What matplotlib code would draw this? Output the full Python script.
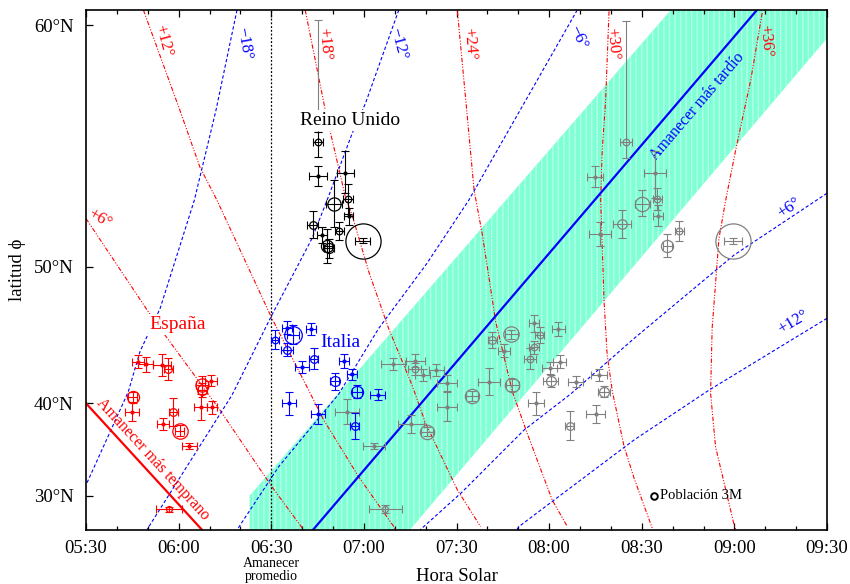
import numpy as np
import matplotlib.pyplot as plt
from matplotlib.ticker import FixedLocator, MultipleLocator, FuncFormatter

plt.rcParams['font.family'] = ['Liberation Serif', 'DejaVu Serif']
plt.rcParams['hatch.linewidth'] = 1.0

# ---------------- data (time in minutes of solar time, latitude in degrees) ----
# United Kingdom
uk_t = [405.1, 405.1, 414.0, 410.2, 414.9, 403.4, 415.1, 406.4, 412.0, 408.1, 408.7, 419.6]
uk_lat = [55.84, 54.44, 54.58, 53.18, 53.40, 52.20, 52.60, 51.70, 51.90, 51.10, 51.00, 51.40]
uk_dt = [1.6, 2.9, 2.7, 2.6, 1.5, 1.9, 1.5, 1.5, 1.5, 1.5, 1.5, 2.4]
uk_dlo = [0.6, 0.45, 0.9, 1.1, 0.7, 0.65, 0.4, 0.4, 0.45, 0.9, 0.5, 0.15]
uk_dhi = [0.4, 0.45, 0.9, 1.1, 0.7, 0.65, 0.4, 0.4, 0.45, 0.9, 0.5, 0.15]
uk_pop = [3.0, 0.5, 0.5, 6.0, 3.0, 3.5, 0.5, 0.5, 3.0, 5.5, 4.5, 16.0]

# Italy
it_t = [391.3, 395.1, 397.0, 395.1, 403.0, 400.0, 403.7, 410.5, 413.6, 416.2, 417.8, 424.5, 395.8, 405.1, 417.0]
it_lat = [45.31, 46.20, 45.70, 44.60, 46.10, 43.20, 43.90, 42.00, 43.70, 42.60, 41.10, 40.80, 40.00, 38.95, 37.70]
it_dt = [1.3, 1.6, 2.0, 1.9, 1.6, 2.2, 1.6, 1.5, 1.7, 1.6, 1.6, 2.4, 2.2, 2.2, 1.5]
it_dlat = [0.7, 0.45, 0.7, 0.5, 0.4, 0.5, 0.8, 0.75, 0.55, 0.5, 0.6, 0.5, 1.1, 1.0, 1.4]
it_pop = [3.0, 0.5, 8.0, 3.5, 1.0, 0.5, 3.5, 4.5, 0.5, 0.5, 5.5, 0.5, 0.5, 0.5, 3.5]

# Spain
es_t = [346.9, 349.4, 354.7, 356.7, 367.5, 370.4, 345.1, 344.8, 355.0, 358.3, 360.4, 363.4, 367.1, 370.8, 367.7, 356.9]
es_lat = [43.65, 43.44, 43.38, 43.03, 41.70, 42.06, 40.56, 39.18, 37.94, 39.12, 37.24, 35.57, 39.60, 39.60, 41.23, 28.52]
es_dt = [2.0, 2.4, 2.9, 1.5, 2.0, 2.0, 1.5, 2.3, 2.0, 1.5, 1.5, 2.4, 2.0, 1.5, 1.5, 4.3]
es_dlat = [0.5, 0.6, 0.9, 0.9, 0.8, 0.5, 0.5, 0.9, 0.6, 1.4, 0.6, 0.3, 1.3, 0.6, 0.6, 0.3]
es_pop = [0.5, 0.5, 0.5, 3.5, 6.0, 0.5, 5.5, 0.5, 0.5, 3.5, 7.0, 0.5, 0.5, 0.5, 4.5, 2.7]

# other countries
ot_t = [405.1, 505.0, 494.9, 510.2, 515.0, 514.2, 515.3, 518.3, 522.2, 496.4, 503.6, 539.6,
        429.4, 436.7, 436.4, 439.0, 443.5, 446.8, 461.6, 467.8, 475.1, 477.0, 483.0, 465.4,
        475.1, 473.8, 483.4, 480.2, 460.5, 468.1, 480.5, 488.6, 496.2, 497.8, 455.1, 475.8,
        486.7, 495.1, 447.0, 440.5, 435.3, 414.5, 423.4, 426.9]
ot_lat = [56.70, 55.84, 54.41, 53.21, 53.41, 54.58, 52.63, 51.13, 51.88, 51.72, 52.22, 51.39,
          43.44, 43.73, 43.06, 42.57, 42.97, 41.84, 45.31, 45.72, 46.49, 45.67, 46.08, 44.53,
          44.77, 43.90, 43.65, 43.16, 41.98, 41.68, 42.04, 41.98, 42.57, 41.08, 40.68, 40.00,
          37.74, 38.95, 39.67, 37.13, 37.94, 39.18, 35.57, 28.54]
ot_dt = [1.5, 1.9, 2.6, 2.5, 1.5, 3.6, 1.5, 1.5, 1.5, 3.6, 2.8, 2.9,
         4.0, 3.0, 2.0, 2.5, 2.5, 3.2, 1.5, 2.0, 1.5, 1.5, 2.0, 2.0,
         1.5, 2.0, 2.0, 2.5, 3.6, 2.0, 2.5, 2.5, 2.5, 2.0, 2.0, 2.6,
         1.5, 3.0, 3.2, 2.0, 4.2, 3.8, 3.6, 5.4]
ot_dlo = [0.46, 0.65, 0.45, 0.6, 0.5, 1.1, 0.5, 0.6, 0.5, 0.6, 0.7, 0.15,
          0.5, 0.5, 0.5, 0.5, 0.5, 0.7, 0.6, 0.3, 0.6, 0.6, 0.5, 0.5,
          0.5, 0.8, 0.5, 0.5, 1.2, 0.5, 0.5, 0.5, 0.5, 0.5, 0.5, 1.1,
          1.5, 0.9, 1.4, 0.5, 0.9, 1.2, 0.3, 0.4]
ot_dhi = [3.47, 4.3, 0.45, 0.6, 0.5, 0.9, 0.5, 0.6, 0.5, 0.6, 0.7, 0.15,
          0.5, 0.5, 0.5, 0.5, 0.5, 0.7, 0.6, 0.3, 0.6, 0.6, 0.5, 0.5,
          0.5, 0.8, 0.5, 0.5, 1.2, 0.5, 0.5, 0.5, 0.5, 0.5, 0.5, 1.1,
          1.5, 0.9, 1.4, 0.5, 0.9, 1.2, 0.3, 0.4]
ot_pop = [0.5, 3.0, 0.5, 6.5, 3.0, 0.5, 0.5, 5.5, 3.0, 0.5, 4.3, 16.0,
          0.5, 0.5, 3.0, 0.5, 0.5, 0.5, 3.5, 7.0, 0.5, 3.0, 0.5, 0.5,
          3.0, 3.0, 0.5, 0.5, 0.5, 6.5, 4.5, 0.5, 0.5, 4.5, 6.5, 0.5,
          3.5, 0.5, 0.5, 6.5, 0.5, 0.5, 0.5, 2.7]

# latest sunrise (winter) and earliest sunrise (summer, DST)
late_t = [403.5, 547.3]
late_lat = [26.39, 60.48]
early_t = [330.0, 367.6]
early_lat = [40.0, 26.39]

# band of +-30 min around the latest sunrise
band_t = [383.0, 383.0, 519.4, 570.0, 570.0, 434.9]
band_lat = [26.39, 30.0, 60.48, 60.48, 59.58, 26.39]

# solar altitude lines, summer (red) and winter (blue)
red_lines = {
    '+6°': ([330.0, 351.6, 373.4, 390.2, 400.5], [52.50, 46.84, 39.34, 31.0, 26.39]),
    '+12°': ([348.6, 360.4, 366.9, 372.4, 390.2, 402.1, 407.0, 418.3, 429.7, 430.3],
             [60.48, 57.08, 54.82, 53.37, 46.84, 41.23, 38.34, 32.12, 26.72, 26.39]),
    '+18°': ([401.0, 407.5, 414.0, 416.2, 421.6, 428.0, 435.6, 440.0, 450.3, 457.8],
             [60.48, 57.08, 53.52, 52.66, 49.71, 46.15, 41.68, 38.0, 30.63, 26.72]),
    '+24°': ([450.3, 453.0, 455.7, 458.4, 462.7, 468.1, 472.9, 481.0, 485.9],
             [60.44, 57.45, 53.82, 51.68, 46.60, 41.08, 36.96, 29.53, 26.72]),
    '+30°': ([499.4, 498.3, 497.2, 496.7, 497.8, 498.8, 500.5, 504.3, 507.5, 513.4],
             [60.44, 57.45, 55.52, 53.37, 47.92, 44.18, 41.08, 35.5, 31.98, 26.56]),
    '+36°': ([549.0, 545.3, 540.4, 537.2, 535.0, 532.8, 532.3, 533.9, 539.9, 540.5],
             [60.39, 58.17, 55.52, 53.37, 51.51, 46.15, 40.93, 35.5, 26.9, 26.39]),
}
blue_lines = {
    '−18°': ([378.9, 372.1, 365.1, 354.0, 347.5, 343.7, 330.0],
             [60.48, 57.08, 53.37, 47.49, 44.46, 41.08, 31.19]),
    '−12°': ([431.3, 420.5, 416.2, 408.1, 403.2, 390.2, 377.3, 349.7],
             [60.48, 57.33, 56.19, 53.37, 51.51, 47.06, 40.78, 26.39]),
    '−6°': ([489.1, 454.0, 440.4, 424.8, 411.8, 392.4, 378.9],
            [60.48, 53.37, 50.18, 46.15, 40.85, 33.26, 26.39]),
    '+6°': ([570.0, 539.9, 507.5, 487.0, 471.9, 451.4, 438.2],
            [53.68, 50.64, 45.43, 40.88, 37.31, 30.27, 26.39]),
    '+12°': ([570.0, 531.8, 507.5, 482.7, 470.2, 469.5],
             [46.84, 41.23, 36.24, 29.80, 26.72, 26.39]),
}
# label spots (time, latitude, rotation)
red_labels = {'+6°': (334.5, 52.5, -30), '+12°': (355.0, 59.5, -75), '+18°': (407.4, 59.4, -85),
              '+24°': (454.4, 59.4, -85), '+30°': (500.4, 59.4, -85), '+36°': (550.2, 59.5, -85)}
blue_labels = {'−18°': (381.2, 59.4, -80), '−12°': (431.1, 59.4, -75), '−6°': (489.4, 59.6, -65),
               '+6°': (557.7, 53.0, 34), '+12°': (559.0, 46.6, 31)}

mean_sunrise = 390.0


# y axis: latitude stretched so that the sunrise lines come out straight
def lat_to_u(lat):
    t = (np.asarray(lat, dtype=float) - 30.0) / 10.0
    return 34.3 + 90.5 * t - 8.2 * t ** 2 + 10.1 * t ** 3


lat_grid = np.linspace(-20, 90, 4001)
u_grid = lat_to_u(lat_grid)


def u_to_lat(u):
    return np.interp(u, u_grid, lat_grid)


def hhmm(v, pos=None):
    v = int(round(v))
    return f"{v // 60:02d}:{v % 60:02d}"


def px_r(pop):
    # circle radius in pixels, proportional to population (millions)
    return 1.1 * pop


def draw_group(ax, t, lat, dt, dlo, dhi, pop, color, z):
    ax.errorbar(t, lat, xerr=dt, yerr=[dlo, dhi], fmt='none', ecolor=color,
                elinewidth=0.8, capsize=2.8, capthick=0.8, zorder=z)
    for ti, li, p in zip(t, lat, pop):
        if p < 2:
            ax.plot(ti, li, 'o', ms=3.0, color=color, mew=0, zorder=z + 0.1)
        else:
            ax.plot(ti, li, 'o', ms=2 * px_r(p) * 0.72, mfc='none', mec=color,
                    mew=0.9, zorder=z + 0.1)


fig = plt.figure(figsize=(8.5, 5.84), dpi=100)
ax = fig.add_axes([86 / 850, 54 / 584, 741 / 850, 520 / 584])
ax.set_yscale('function', functions=(lat_to_u, u_to_lat))
ax.set_xlim(330, 570)
ax.set_ylim(u_to_lat(0.0), u_to_lat(520.0))

# band
ax.fill(band_t, band_lat, facecolor='#7fffd4', linewidth=0, zorder=1)
ax.fill(band_t, band_lat, facecolor='none', edgecolor='#b4ffe8', linewidth=0, hatch='|||', zorder=1.1)

for name, (tt, ll) in red_lines.items():
    ax.plot(tt, ll, color='red', lw=0.8, dashes=(4, 1.5, 1, 1.5, 1, 1.5), zorder=2)
for name, (tt, ll) in blue_lines.items():
    ax.plot(tt, ll, color='blue', lw=0.8, dashes=(3, 2), zorder=2)
for name, (tt, ll, rot) in red_labels.items():
    ax.text(tt, ll, name, color='red', fontsize=12, rotation=rot, ha='center', va='center', zorder=3)
for name, (tt, ll, rot) in blue_labels.items():
    ax.text(tt, ll, name, color='blue', fontsize=12, rotation=rot, ha='center', va='center', zorder=3)

ax.plot(late_t, late_lat, color='blue', lw=1.6, zorder=2.5)
ax.plot(early_t, early_lat, color='red', lw=1.6, zorder=2.5)
ax.text(528.0, 57.2, 'Amanecer más tardío', color='blue', fontsize=11.5, rotation=49.5,
        ha='center', va='center', zorder=3)
ax.text(351.6, 34.1, 'Amanecer más temprano', color='red', fontsize=11.5, rotation=-47.4,
        ha='center', va='center', zorder=3)

ax.axvline(mean_sunrise, color='black', lw=0.9, ls=(0, (1.5, 1.5)), zorder=2)

draw_group(ax, ot_t, ot_lat, ot_dt, ot_dlo, ot_dhi, ot_pop, '#808080', 4)
draw_group(ax, uk_t, uk_lat, uk_dt, uk_dlo, uk_dhi, uk_pop, 'black', 5)
draw_group(ax, it_t, it_lat, it_dt, it_dlat, it_dlat, it_pop, 'blue', 5)
draw_group(ax, es_t, es_lat, es_dt, es_dlat, es_dlat, es_pop, 'red', 5)

box = dict(facecolor='white', edgecolor='none', pad=1.5)
ax.text(415.5, 56.7, 'Reino Unido', color='black', fontsize=14, ha='center', va='center', bbox=box, zorder=6)
ax.text(412.3, 45.1, 'Italia', color='blue', fontsize=14, ha='center', va='center', zorder=6)
ax.text(359.8, 46.4, 'España', color='red', fontsize=14, ha='center', va='center', bbox=box, zorder=6)

# population key
ax.plot([0.7665], [0.0654], 'o', transform=ax.transAxes, ms=2 * px_r(3.0) * 0.72,
        mfc='none', mec='black', mew=1.4, zorder=6)
ax.text(0.775, 0.0654, 'Población 3M', transform=ax.transAxes, fontsize=10.5, va='center', zorder=6)

# axes cosmetics
ax.xaxis.set_major_locator(MultipleLocator(30))
ax.xaxis.set_minor_locator(MultipleLocator(10))
ax.xaxis.set_major_formatter(FuncFormatter(hhmm))
ax.yaxis.set_major_locator(FixedLocator([30, 40, 50, 60]))
ax.yaxis.set_minor_locator(FixedLocator([]))
ax.yaxis.set_major_formatter(FuncFormatter(lambda v, p: f"{v:.0f}°N"))
ax.tick_params(axis='x', which='both', direction='in', top=True, bottom=True, labelsize=13.5, pad=7)
ax.tick_params(axis='y', which='both', direction='in', left=True, right=False, labelsize=13.5, pad=9)
ax.tick_params(which='major', length=5, width=0.9)
ax.tick_params(which='minor', length=3, width=0.9)
for sp in ax.spines.values():
    sp.set_linewidth(1.2)

ax.text(mean_sunrise, -0.052, 'Amanecer\npromedio', transform=ax.get_xaxis_transform(),
        ha='center', va='top', fontsize=10, linespacing=0.95)
ax.set_xlabel('Hora Solar', fontsize=13.5, va='top')
ax.xaxis.set_label_coords(0.5, -0.074)
ax.set_ylabel('latitud ϕ', fontsize=13.5, va='center')
ax.yaxis.set_label_coords(-0.092, 0.5)

fig.savefig('out.png', dpi=100)
